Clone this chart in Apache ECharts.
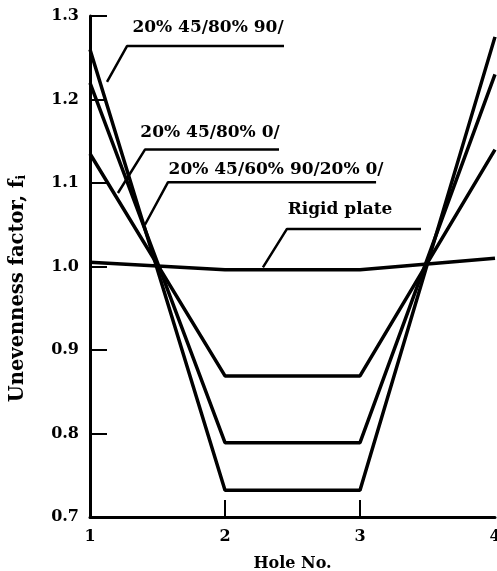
<!DOCTYPE html>
<html>
<head>
<meta charset="utf-8">
<script src="https://cdn.jsdelivr.net/npm/echarts@6/dist/echarts.min.js"></script>
<style>
html,body{margin:0;padding:0;background:#fff;}
#chart{width:497px;height:571px;}
</style>
</head>
<body>
<div id="chart"></div>
<script>
// Data
var holes = [1, 2, 3, 4];
var series8090 = [1.26, 0.732, 0.732, 1.275];
var series800 = [1.22, 0.789, 0.789, 1.23];
var series6090 = [1.135, 0.869, 0.869, 1.14];
var rigidPlate = [1.005, 0.996, 0.996, 1.01];
var seriesNames = ['20% 45/80% 90/', '20% 45/80% 0/', '20% 45/60% 90/20% 0/', 'Rigid plate'];
var yTicks = [0.8, 0.9, 1.0, 1.1, 1.2, 1.3];
var xTicks = [2, 3];
var xLabels = [1, 2, 3, 4];
var yLabels = [0.7, 0.8, 0.9, 1.0, 1.1, 1.2, 1.3];
// Annotation leader lines (data coordinates) and label anchors
var leaders = [
  [[1.126, 1.221], [1.274, 1.264], [2.437, 1.264]],
  [[1.207, 1.088], [1.407, 1.140], [2.400, 1.140]],
  [[1.407, 1.050], [1.578, 1.101], [3.119, 1.101]],
  [[2.281, 0.999], [2.459, 1.045], [3.452, 1.045]]
];
var labelAnchors = [[1.874, 1.286], [1.889, 1.160], [2.378, 1.1156], [2.852, 1.0677]];

var FONT = 'DejaVu Serif';
function pairs(vals) { return holes.map(function (h, i) { return [h, vals[i]]; }); }
var allVals = [series8090, series800, series6090, rigidPlate];

var series = allVals.map(function (vals, i) {
  return {
    name: seriesNames[i], type: 'line', data: pairs(vals), symbol: 'none',
    lineStyle: { color: '#000', width: 3.5 }, z: 3, animation: false
  };
});
leaders.forEach(function (pts, i) {
  series.push({
    type: 'line', data: pts, symbol: 'none', silent: true, animation: false,
    lineStyle: { color: '#000', width: 2.5 },
    markPoint: {
      symbol: 'circle', symbolSize: 0, animation: false,
      data: [{ coord: labelAnchors[i] }],
      label: {
        show: true, position: 'inside', formatter: seriesNames[i],
        fontFamily: FONT, fontWeight: 'bold', fontSize: 17, color: '#000'
      }
    }
  });
});

var chart = echarts.init(document.getElementById('chart'), null, { renderer: 'canvas' });
chart.setOption({
  backgroundColor: '#fff',
  animation: false,
  grid: { left: 90, right: 2, top: 16, bottom: 54, containLabel: false, outerBoundsMode: 'none' },
  xAxis: {
    type: 'value', min: 1, max: 4, interval: 1,
    name: 'Hole No.', nameLocation: 'middle', nameGap: 39,
    nameTextStyle: { fontFamily: FONT, fontWeight: 'bold', fontSize: 16, color: '#000' },
    axisLine: { show: true, lineStyle: { color: '#000', width: 3 } },
    axisTick: { show: true, inside: true, length: 17, customValues: xTicks, lineStyle: { color: '#000', width: 2 } },
    axisLabel: { customValues: xLabels, fontFamily: FONT, fontWeight: 'bold', fontSize: 16, color: '#000', margin: 12 },
    splitLine: { show: false }
  },
  yAxis: {
    type: 'value', min: 0.7, max: 1.3, interval: 0.1,
    name: 'Unevenness factor, f{sub|i}', nameLocation: 'middle', nameGap: 62,
    nameTextStyle: {
      fontFamily: FONT, fontWeight: 'bold', fontSize: 19.5, color: '#000', padding: [0, 44, 0, 0],
      rich: { sub: { fontFamily: FONT, fontWeight: 'bold', fontSize: 13, verticalAlign: 'bottom', padding: [8, 0, 0, 0] } }
    },
    axisLine: { show: true, lineStyle: { color: '#000', width: 3 } },
    axisTick: { show: true, inside: true, length: 17, customValues: yTicks, lineStyle: { color: '#000', width: 2 } },
    axisLabel: {
      customValues: yLabels, fontFamily: FONT, fontWeight: 'bold', fontSize: 16, color: '#000', margin: 11,
      formatter: function (v) { return v.toFixed(1); }
    },
    splitLine: { show: false }
  },
  series: series
});
</script>
</body>
</html>
